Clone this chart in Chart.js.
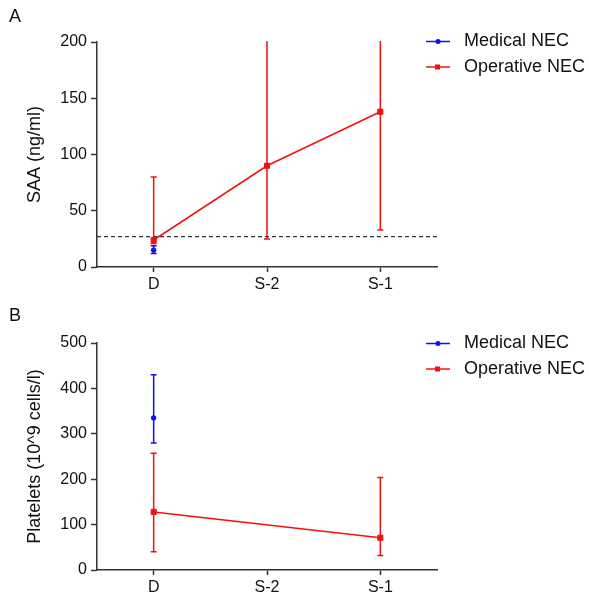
<!DOCTYPE html>
<html>
<head>
<meta charset="utf-8">
<script src="https://cdn.jsdelivr.net/npm/chart.js@4/dist/chart.umd.min.js"></script>
<style>
body{margin:0;background:#fff;}
.wrap{position:absolute;left:0;width:589px;height:298px;}
</style>
</head>
<body>
<div class="wrap" style="top:0"><canvas id="chartA" width="589" height="298"></canvas></div>
<div class="wrap" style="top:298px"><canvas id="chartB" width="589" height="298"></canvas></div>
<script>
const categories = ["D", "S-2", "S-1"];
const seriesNames = ["Medical NEC", "Operative NEC"];

// panel A: SAA (ng/ml)
const saaMedical = [15, null, null];
const saaMedicalHigh = [19, null, null];
const saaMedicalLow = [12, null, null];
const saaOperative = [24, 90, 138];
const saaOperativeHigh = [80, 230, 230];
const saaOperativeLow = [21, 25, 33];
const saaCutoff = 27;
const saaTicks = [0, 50, 100, 150, 200];

// panel B: platelets
const pltMedical = [335, null, null];
const pltMedicalHigh = [430, null, null];
const pltMedicalLow = [280, null, null];
const pltOperative = [128, null, 71];
const pltOperativeHigh = [257, null, 204];
const pltOperativeLow = [40, null, 32];
const pltTicks = [0, 100, 200, 300, 400, 500];

const blue = "#1010f5";
const red = "#f51010";
const axisColor = "#333";
const font = "'Liberation Sans', Arial, sans-serif";

const errorBars = {
    id: "errorBars",
    beforeDatasetsDraw(chart, args, opts){
        const ctx = chart.ctx;
        const y = chart.scales.y;
        const x = chart.scales.x;
        const area = chart.chartArea;
        ctx.save();
        ctx.beginPath();
        ctx.rect(area.left, area.top - 1, area.right - area.left, area.bottom - area.top + 2);
        ctx.clip();
        opts.bars.forEach(bar=>{
            ctx.strokeStyle = bar.color;
            ctx.lineWidth = 1.5;
            bar.high.forEach((hi, i)=>{
                if(hi === null) return;
                const px = x.getPixelForValue(i);
                const top = y.getPixelForValue(hi);
                const bot = y.getPixelForValue(bar.low[i]);
                ctx.beginPath();
                ctx.moveTo(px, top);
                ctx.lineTo(px, bot);
                if(hi <= y.max){
                    ctx.moveTo(px - 3, top);
                    ctx.lineTo(px + 3, top);
                }
                ctx.moveTo(px - 3, bot);
                ctx.lineTo(px + 3, bot);
                ctx.stroke();
            });
        });
        ctx.restore();
    }
};

const extras = {
    id: "extras",
    beforeDatasetsDraw(chart, args, opts){
        if(opts.cutoff === undefined) return;
        const ctx = chart.ctx;
        const area = chart.chartArea;
        const py = chart.scales.y.getPixelForValue(opts.cutoff);
        ctx.save();
        ctx.strokeStyle = axisColor;
        ctx.lineWidth = 1.2;
        ctx.setLineDash([4, 3]);
        ctx.beginPath();
        ctx.moveTo(area.left, py);
        ctx.lineTo(area.right, py);
        ctx.stroke();
        ctx.restore();
    },
    afterDraw(chart, args, opts){
        const ctx = chart.ctx;
        ctx.save();
        ctx.fillStyle = "#111";
        ctx.font = "18px " + font;
        ctx.textBaseline = "middle";
        ctx.textAlign = "left";
        ctx.fillText(opts.letter, 9, opts.letterY);

        chart.data.datasets.forEach((ds, i)=>{
            const ly = opts.legendY + i * 25.5;
            ctx.strokeStyle = ds.borderColor;
            ctx.fillStyle = ds.borderColor;
            ctx.lineWidth = 1.5;
            ctx.beginPath();
            ctx.moveTo(426, ly);
            ctx.lineTo(450, ly);
            ctx.stroke();
            if(ds.pointStyle === "rect"){
                ctx.fillRect(435, ly - 2.5, 5, 5);
            }else{
                ctx.beginPath();
                ctx.arc(438, ly, 2.5, 0, Math.PI * 2);
                ctx.fill();
            }
            ctx.fillStyle = "#111";
            ctx.fillText(ds.label, 464, ly);
        });
        ctx.restore();
    }
};

function makeChart(id, cfg){
    const ctx = document.getElementById(id).getContext("2d");
    return new Chart(ctx, {
        type: "line",
        data: {
            labels: categories,
            datasets: [
                {
                    label: seriesNames[0],
                    data: cfg.medical,
                    borderColor: blue,
                    backgroundColor: blue,
                    pointStyle: "circle",
                    pointRadius: 2.3,
                    pointBorderWidth: 1,
                    borderWidth: 1.5,
                    spanGaps: true
                },
                {
                    label: seriesNames[1],
                    data: cfg.operative,
                    borderColor: red,
                    backgroundColor: red,
                    pointStyle: "rect",
                    pointRadius: 3.6,
                    pointBorderWidth: 1,
                    borderWidth: 1.5,
                    spanGaps: true
                }
            ]
        },
        options: {
            responsive: false,
            animation: false,
            layout: {
                padding: {left: 0, right: 152, top: cfg.top, bottom: 0}
            },
            plugins: {
                legend: {display: false},
                tooltip: {enabled: false},
                errorBars: {
                    bars: [
                        {color: blue, high: cfg.medicalHigh, low: cfg.medicalLow},
                        {color: red, high: cfg.operativeHigh, low: cfg.operativeLow}
                    ]
                },
                extras: {
                    cutoff: cfg.cutoff,
                    letter: cfg.letter,
                    letterY: cfg.letterY,
                    legendY: cfg.legendY
                }
            },
            scales: {
                x: {
                    offset: true,
                    border: {color: axisColor, width: 1.5},
                    grid: {display: true, drawOnChartArea: false, tickLength: 5, tickWidth: 1.5, tickColor: axisColor, offset: false},
                    ticks: {color: "#111", font: {size: 16, family: font}, padding: 3},
                    afterFit(scale){ scale.height = cfg.xHeight; }
                },
                y: {
                    min: cfg.ticks[0],
                    max: cfg.ticks[cfg.ticks.length - 1],
                    border: {color: axisColor, width: 1.5},
                    grid: {display: true, drawOnChartArea: false, tickLength: 6, tickWidth: 1.5, tickColor: axisColor},
                    afterBuildTicks(scale){ scale.ticks = cfg.ticks.map(v=>({value: v})); },
                    ticks: {color: "#111", font: {size: 16, family: font}, padding: 4},
                    title: {
                        display: true,
                        text: cfg.title,
                        color: "#111",
                        font: {size: 18, family: font},
                        padding: {top: 24, bottom: 0}
                    },
                    afterFit(scale){ scale.width = 97; }
                }
            }
        },
        plugins: [errorBars, extras]
    });
}

makeChart("chartA", {
    medical: saaMedical, medicalHigh: saaMedicalHigh, medicalLow: saaMedicalLow,
    operative: saaOperative, operativeHigh: saaOperativeHigh, operativeLow: saaOperativeLow,
    ticks: saaTicks, title: "SAA (ng/ml)", cutoff: saaCutoff,
    top: 42, xHeight: 31, letter: "A", letterY: 17, legendY: 41.5
});

makeChart("chartB", {
    medical: pltMedical, medicalHigh: pltMedicalHigh, medicalLow: pltMedicalLow,
    operative: pltOperative, operativeHigh: pltOperativeHigh, operativeLow: pltOperativeLow,
    ticks: pltTicks, title: "Platelets (10^9 cells/l)",
    top: 45, xHeight: 26, letter: "B", letterY: 18, legendY: 45.5
});
</script>
</body>
</html>
